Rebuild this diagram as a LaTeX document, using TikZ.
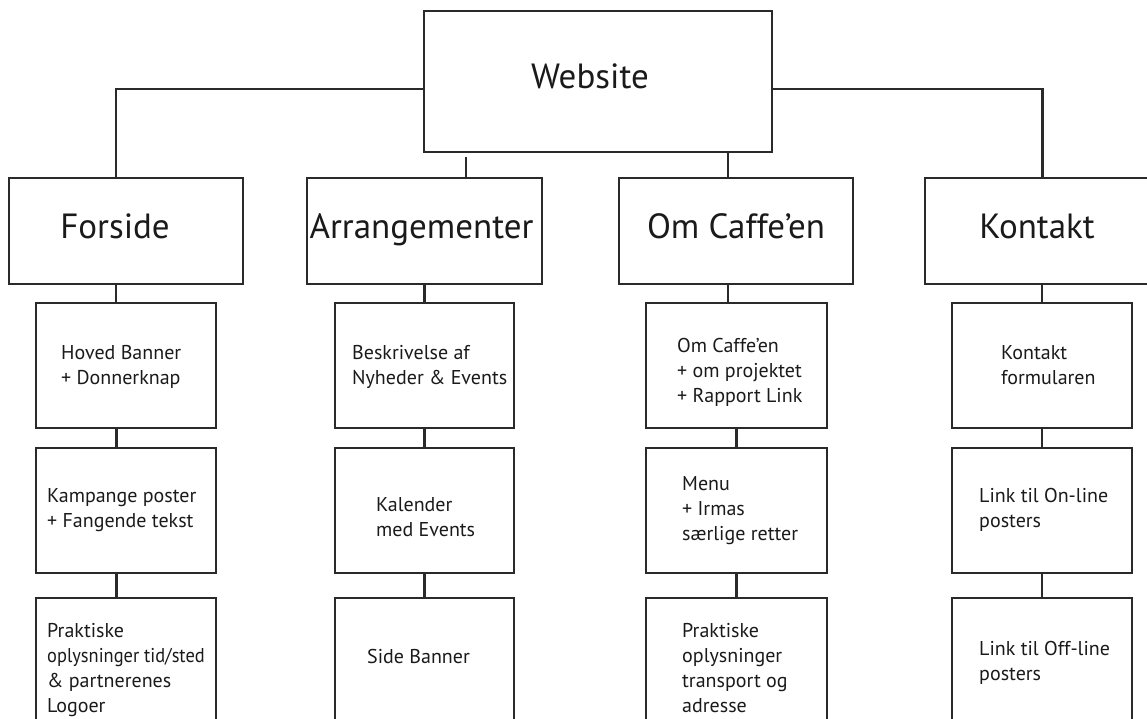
\documentclass[tikz,border=0pt]{standalone}
\usepackage{fontspec}
\setmainfont{PT Sans}
\newfontfamily\narrowsans[FakeStretch=0.92]{PT Sans}
\definecolor{linegray}{HTML}{2A2A2A}
\definecolor{textgray}{HTML}{1A1A1A}
\begin{document}
\begin{tikzpicture}[x=1pt,y=-1pt,
  box/.style={draw=linegray,line width=2.8pt,rectangle,inner sep=0pt,fill=none},
  link/.style={draw=linegray,line width=2.8pt},
  headtext/.style={font=\fontsize{35}{42}\selectfont,text=textgray,inner sep=0pt,anchor=base},
  subtext/.style={font=\fontsize{20}{25}\selectfont,text=textgray,inner sep=0pt,anchor=base west,align=left}]
\useasboundingbox (0,0) rectangle (1147,719);

% top level
\node[box,minimum width=348pt,minimum height=141pt] (web) at (598,81.5) {};
\node[headtext] (webt) at (590,89) {Website};

% section boxes
\node[box,minimum width=234pt,minimum height=106pt] (fors) at (126,231) {};
\node[box,minimum width=235pt,minimum height=106pt] (arr)  at (424.5,231) {};
\node[box,minimum width=234pt,minimum height=106pt] (omc)  at (736,231) {};
\node[box,minimum width=235pt,minimum height=106pt] (kon)  at (1042.5,231) {};
\node[headtext] (forst) at (115,238) {Forside};
\node[headtext] (arrt)  at (421.5,238) {Arrangementer};
\node[headtext] (omct)  at (736,238) {Om Caffe’en};
\node[headtext] (kont)  at (1037,238) {Kontakt};

% Forside column
\node[box,minimum width=180pt,minimum height=125pt] (f1) at (126,365.5) {};
\node[box,minimum width=180pt,minimum height=125pt] (f2) at (126,510.5) {};
\node[box,minimum width=180pt,minimum height=142pt] (f3) at (126,669) {};
% Arrangementer column
\node[box,minimum width=179pt,minimum height=125pt] (a1) at (424.5,365.5) {};
\node[box,minimum width=179pt,minimum height=125pt] (a2) at (424.5,510.5) {};
\node[box,minimum width=179pt,minimum height=142pt] (a3) at (424.5,669) {};
% Om Caffe'en column
\node[box,minimum width=181pt,minimum height=125pt] (o1) at (736.5,365.5) {};
\node[box,minimum width=181pt,minimum height=125pt] (o2) at (736.5,510.5) {};
\node[box,minimum width=181pt,minimum height=142pt] (o3) at (736.5,669) {};
% Kontakt column
\node[box,minimum width=180pt,minimum height=125pt] (k1) at (1042,365.5) {};
\node[box,minimum width=180pt,minimum height=125pt] (k2) at (1042,510.5) {};
\node[box,minimum width=180pt,minimum height=142pt] (k3) at (1042,669) {};

% texts of the sub pages (anchored on the baseline of the last line)
\node[subtext] (f1t) at (61,384)  {Hoved Banner\\+ Donnerknap};
\node[subtext] (f2t) at (47,527)  {Kampange poster\\+ Fangende tekst};
\node[subtext] (f3t) at (47,712)  {Praktiske\\{\narrowsans oplysninger tid/sted}\\\& partnerenes\\Logoer};
\node[subtext] (a1t) at (352,384) {Beskrivelse af\\Nyheder \& Events};
\node[subtext] (a2t) at (376,536) {Kalender\\med Events};
\node[subtext] (a3t) at (367,663) {Side Banner};
\node[subtext] (o1t) at (677,402) {Om Caffe’en\\+ om projektet\\+ Rapport Link};
\node[subtext] (o2t) at (682,540) {Menu\\+ Irmas\\særlige retter};
\node[subtext] (o3t) at (682,712) {Praktiske\\oplysninger\\transport og\\adresse};
\node[subtext] (k1t) at (1001,384) {Kontakt\\formularen};
\node[subtext] (k2t) at (979,527) {Link til On-line\\posters};
\node[subtext] (k3t) at (979,680) {Link til Off-line\\posters};

% connectors from the top box
\draw[link] ([yshift=-7.5pt]web.west) -| ([xshift=-10pt]fors.north);
\draw[link] ([yshift=-7.5pt]web.east) -| (kon.north);
\draw[link] ([xshift=-8pt]omc.north |- web.south) -- ([xshift=-8pt]omc.north);
\coordinate (stub) at (466,157);
\draw[link] (stub) -- (stub |- arr.north);

% connectors down each column
\draw[link] ([xshift=-10pt]fors.south) -- ([xshift=-10pt]fors.south |- f1.north);
\draw[link] ([xshift=-9.5pt]f1.south) -- ([xshift=-9.5pt]f2.north);
\draw[link] ([xshift=-9.5pt]f2.south) -- ([xshift=-9.5pt]f3.north);
\draw[link] (arr.south) -- (arr.south |- a1.north);
\draw[link] (a1.south) -- (a2.north);
\draw[link] (a2.south) -- (a3.north);
\draw[link] ([xshift=-8pt]omc.south) -- ([xshift=-8pt]omc.south |- o1.north);
\draw[link] (o1.south) -- (o2.north);
\draw[link] (o2.south) -- (o3.north);
\draw[link] ([xshift=-0.5pt]kon.south) -- ([xshift=-0.5pt]kon.south |- k1.north);
\draw[link] (k1.south) -- (k2.north);
\draw[link] (k2.south) -- (k3.north);
\end{tikzpicture}
\end{document}
